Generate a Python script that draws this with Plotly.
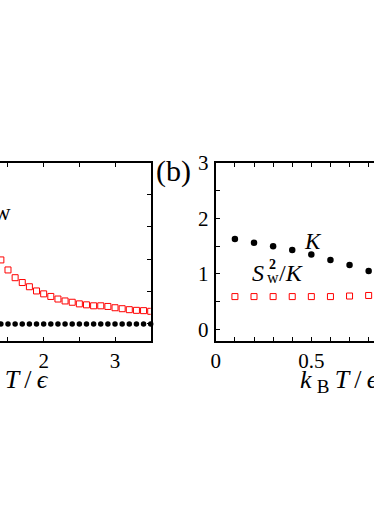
import plotly.graph_objects as go

# panel (a), only its right part falls inside the picture
temps_a = [1.4, 1.5, 1.6, 1.7, 1.8, 1.9, 2.0, 2.1, 2.2, 2.3, 2.4,
           2.5, 2.6, 2.7, 2.8, 2.9, 3.0, 3.1, 3.2, 3.3, 3.4, 3.5]
k_a = [0.0, 0.0, 0.0, 0.0, 0.0, 0.0, 0.0, 0.0, 0.0, 0.0, 0.0,
       0.0, 0.0, 0.0, 0.0, 0.0, 0.0, 0.0, 0.0, 0.0, 0.0, 0.0]
sw_a = [1.98, 1.67, 1.43, 1.28, 1.15, 1.02, 0.93, 0.85, 0.77, 0.71, 0.67,
        0.62, 0.59, 0.56, 0.56, 0.54, 0.50, 0.47, 0.44, 0.42, 0.41, 0.39]

# panel (b)
temps_b = [0.1, 0.2, 0.3, 0.4, 0.5, 0.6, 0.7, 0.8]
k_b = [1.63, 1.56, 1.50, 1.43, 1.35, 1.25, 1.16, 1.05]
sw2_over_k_b = [0.59, 0.59, 0.59, 0.59, 0.59, 0.59, 0.60, 0.61]

a_xticks = [2, 3]
a_xminor = [1.5, 2.5, 3.5]
b_xticks = [0, 0.5]
b_yticks = [0, 1, 2, 3]

W, H = 374, 528
SERIF = 'Liberation Serif'


def px_x(p):
    return p / W


def px_y(p):
    return 1 - p / H


fig = go.Figure()

fig.add_trace(go.Scatter(
    x=temps_a, y=sw_a, mode='markers', xaxis='x', yaxis='y',
    marker=dict(symbol='square-open', size=6, color='red', line=dict(width=1)),
))
fig.add_trace(go.Scatter(
    x=temps_a, y=k_a, mode='markers', xaxis='x', yaxis='y',
    marker=dict(symbol='circle', size=5.5, color='black'),
    cliponaxis=False,
))
fig.add_trace(go.Scatter(
    x=temps_b, y=k_b, mode='markers', xaxis='x2', yaxis='y2',
    marker=dict(symbol='circle', size=6.5, color='black'),
))
fig.add_trace(go.Scatter(
    x=temps_b, y=sw2_over_k_b, mode='markers', xaxis='x2', yaxis='y2',
    marker=dict(symbol='square-open', size=6, color='red', line=dict(width=1)),
))

ydom = [px_y(340.7), px_y(163)]
axis_common = dict(
    showline=True, linecolor='black', linewidth=2,
    ticks='inside', ticklen=4, tickcolor='black', tickwidth=1,
    showgrid=False, zeroline=False,
    tickfont=dict(family=SERIF, size=21, color='black'),
)
minor_common = dict(ticks='inside', ticklen=4, tickcolor='black', tickwidth=1,
                    showgrid=False)

fig.update_layout(
    width=W, height=H,
    margin=dict(l=0, r=0, t=0, b=0, autoexpand=False),
    paper_bgcolor='white', plot_bgcolor='white',
    showlegend=False,
    xaxis=dict(domain=[0, px_x(150.7)], range=[1.388, 3.5], mirror='ticks',
               tickmode='array', tickvals=a_xticks,
               minor=dict(tickmode='array', tickvals=a_xminor, **minor_common),
               anchor='y', **axis_common),
    yaxis=dict(domain=ydom, range=[-0.52, 4.98], side='right', mirror=False,
               dtick=1, showticklabels=False, anchor='x', **axis_common),
    xaxis2=dict(domain=[px_x(215.8), 1], range=[0, 0.828], mirror='ticks',
                tickmode='array', tickvals=b_xticks,
                minor=dict(dtick=0.1, tick0=0, **minor_common),
                anchor='y2', **axis_common),
    yaxis2=dict(domain=ydom, range=[-0.206, 3.0], mirror=False,
                tickmode='array', tickvals=b_yticks,
                minor=dict(dtick=0.5, tick0=0, **minor_common),
                ticklabelstandoff=1, anchor='x2', **axis_common),
)

title_text = ('<i>k</i>\u2009<sub><span style="font-size:19px">B</span></sub>'
              '\u2009<i>T</i>\u2009/\u2009<i>ϵ</i>')
notes = [
    dict(x=px_x(154), y=px_y(171), text='(b)', size=30, xanchor='left'),
    dict(x=px_x(2), y=px_y(213), text='w', size=23, xanchor='center'),
    dict(x=px_x(313), y=px_y(242), text='<i>K</i>', size=23, xanchor='center'),
    dict(x=px_x(250), y=px_y(272.5), text='<i>S</i>', size=24, xanchor='left'),
    dict(x=px_x(264.5), y=px_y(277.5), text='w', size=16, xanchor='left'),
    dict(x=px_x(266.5), y=px_y(264.5), text='<b>2</b>', size=14, xanchor='left'),
    dict(x=px_x(277), y=px_y(272.5), text='/<i>K</i>', size=24, xanchor='left'),
    dict(x=px_x(298), y=px_y(381), text=title_text, size=26, xanchor='left'),
    dict(x=px_x(298 - 330), y=px_y(381), text=title_text, size=26, xanchor='left'),
]
for n in notes:
    fig.add_annotation(
        x=n['x'], y=n['y'], xref='paper', yref='paper',
        text=n['text'], showarrow=False,
        xanchor=n['xanchor'], yanchor='middle',
        font=dict(family=SERIF, size=n['size'], color='black'),
    )

# the page keeps the default 8px body margin otherwise
fig.write_html("out.html", config={'displayModeBar': False},
               post_script="document.body.style.margin='0';")
